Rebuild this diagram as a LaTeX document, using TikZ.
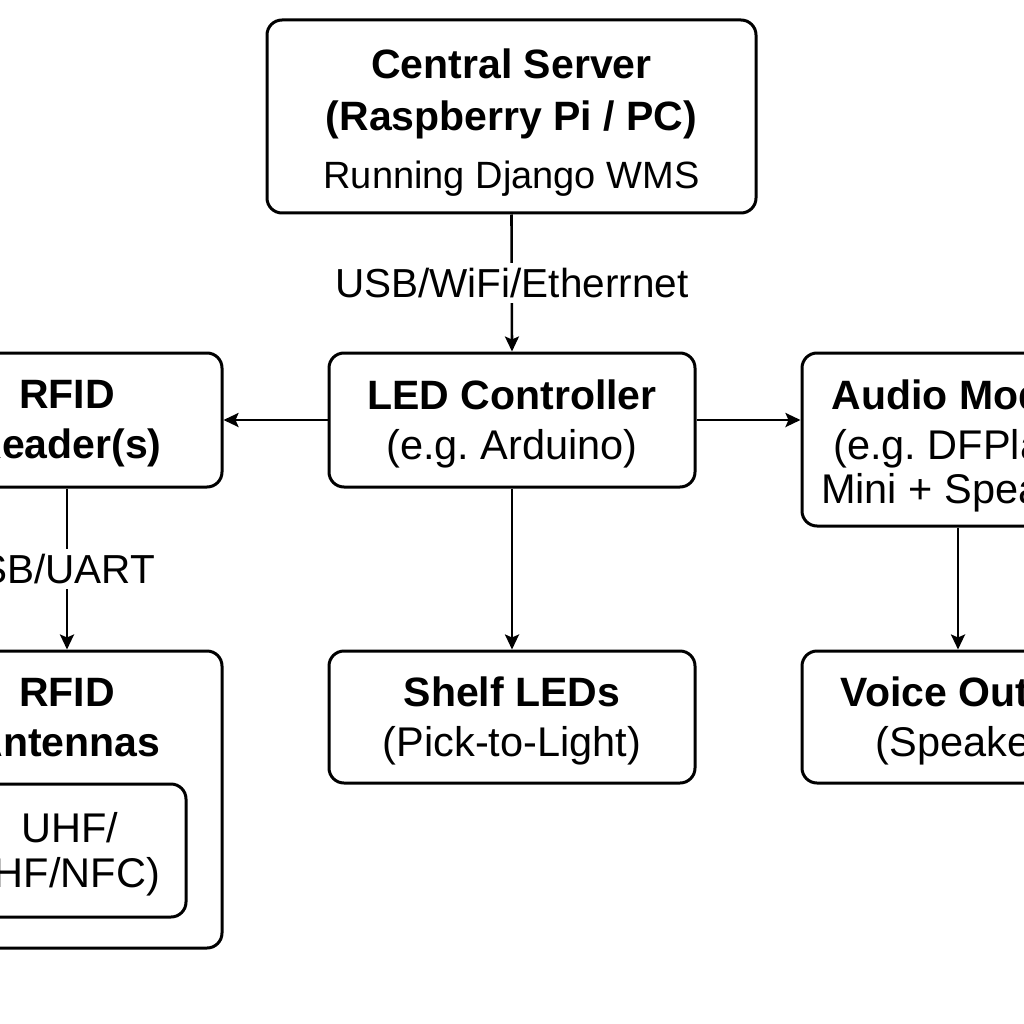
\documentclass[tikz,border=0pt]{standalone}
\usepackage{fontspec}
\setmainfont{Liberation Sans}
\usetikzlibrary{arrows.meta}
\frenchspacing
\begin{document}
\begin{tikzpicture}[x=1pt,y=-1pt,
  box/.style={draw=black, line width=3pt, rounded corners=15pt, fill=white, inner sep=0pt},
  txt/.style={align=center, inner sep=0pt, font=\fontsize{41.5}{50}\selectfont},
  bt/.style={font=\fontsize{41}{50}\selectfont\bfseries},
  arr/.style={line width=2.6pt, -{Stealth[length=15pt,width=14pt,inset=3pt]}},
  lbl/.style={fill=white, inner sep=5pt, font=\fontsize{40.5}{48}\selectfont}
]
\useasboundingbox (0,0) rectangle (1024,1024);
\clip (0,0) rectangle (1024,1024);
\fill[white] (0,0) rectangle (1024,1024);

% boxes
\node[box, minimum width=489pt, minimum height=193pt] (srv) at (511.5,116.5) {};
\node[box, minimum width=366pt, minimum height=134pt] (led) at (512,420) {};
\node[box, minimum width=310pt, minimum height=134pt] (rdr) at (67,420) {};
\node[box, minimum width=310pt, minimum height=297pt] (ant) at (67,799.5) {};
\node[box, minimum width=232pt, minimum height=133pt] (band) at (70,850.5) {};
\node[box, minimum width=366pt, minimum height=132pt] (shelf) at (512,717) {};
\node[box, minimum width=312pt, minimum height=173pt] (audio) at (958,439.5) {};
\node[box, minimum width=312pt, minimum height=132pt] (voice) at (958,717) {};

% texts
\node[txt, font=\fontsize{41}{52}\selectfont] (srvt) at (511.5,123)
  {\textbf{Central Server}\\\textbf{(Raspberry Pi / PC)}\\[6pt]{\fontsize{38}{46}\selectfont Running Django WMS}};
\node[txt] (ledt) at (512,424) {{\bfseries\fontsize{41}{50}\selectfont LED Controller}\\(e.g. Arduino)};
\node[txt, bt] (rdrt) at (67,424) {RFID\\Reader(s)};
\node[txt, bt] (antt) at (67,718) {RFID\\Antennas};
\node[txt, font=\fontsize{41.5}{45}\selectfont] (bandt) at (70,854) {UHF/\\(HF/NFC)};
\node[txt] (shelft) at (512,721) {{\bfseries\fontsize{41}{50}\selectfont Shelf LEDs}\\(Pick-to-Light)};
\node[txt] (audiot) at (967,446) {{\bfseries\fontsize{41}{50}\selectfont Audio Module}\\(e.g. DFPlayer\\[-6pt]Mini + Speaker)};
\node[txt] (voicet) at (967,721) {{\bfseries\fontsize{41}{50}\selectfont Voice Output}\\(Speaker)};

% connectors
\draw[arr] (srv.south) -- node[lbl] (l1) {USB/WiFi/Etherrnet} (led.north);
\draw[arr] (led.west) -- (rdr.east);
\draw[arr] (led.east) -- (audio.west |- led.east);
\draw[arr] (led.south) -- (shelf.north);
\draw[arr] (rdr.south) -- node[lbl, xshift=-14pt] (l2) {USB/UART} (ant.north);
\draw[arr] (audio.south) -- (voice.north);
\end{tikzpicture}
\end{document}
